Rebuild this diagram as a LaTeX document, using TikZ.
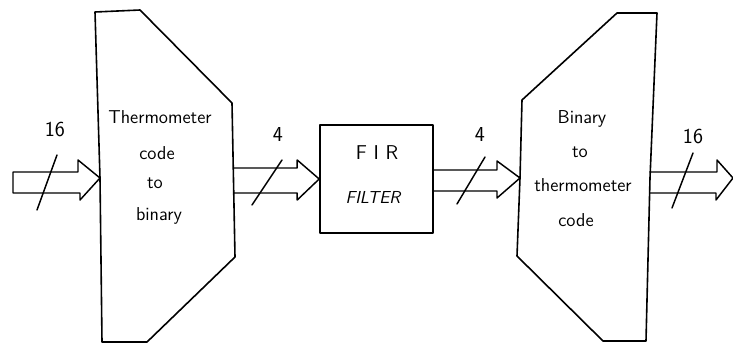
\documentclass[tikz,border=0pt]{standalone}
\usetikzlibrary{calc}
\begin{document}
\begin{tikzpicture}[x=0.75pt,y=-0.75pt,
  line/.style={draw=black,line width=1.2pt,line join=round,line cap=round},
  lbl/.style={font=\sffamily\fontsize{14}{15}\selectfont,inner sep=0pt,anchor=center},
  bus/.style={line,line width=1.1pt}]
\useasboundingbox (0,0) rectangle (733,343);
% left block: thermometer code to binary
\draw[line] (95,12) coordinate (t1a) -- (140,10) -- (232,103) -- (235,257) -- (147,342) -- (102,342) -- (100,178) coordinate (t1in) -- cycle;
\coordinate (t1out) at (234,180);
\node[lbl] (t1l1) at (160,117) {Thermometer};
\node[lbl] (t1l2) at (157,153) {code};
\node[lbl] (t1l3) at (155,183) {to};
\node[lbl] (t1l4) at (159,216) {binary};
% FIR filter
\node[line,minimum width=113*0.75pt,minimum height=108*0.75pt,inner sep=0pt] (fir) at (376.5,179) {};
\node[lbl,font=\sffamily\fontsize{15}{16}\selectfont] (firl1) at (377,153) {F\,\,I\,\,R};
\node[lbl,font=\sffamily\itshape\fontsize{13}{14}\selectfont] (firl2) at (373,197) {FILTER};
% right block: binary to thermometer code
\draw[line] (617,13) -- (657,13) -- (650,178) coordinate (t2out) -- (646,341) -- (603,341) -- (517,256) -- (520,178) coordinate (t2in) -- (522,100) -- cycle;
\node[lbl] (t2l1) at (582,119) {Binary};
\node[lbl] (t2l2) at (580,152) {to};
\node[lbl] (t2l3) at (583,185) {thermometer};
\node[lbl] (t2l4) at (576,220) {code};
% input bus
\coordinate (in) at (13,182);
\draw[bus] (in) ++(0,-10) -- ($(t1in)+(-22,-6)$) -- ($(t1in)+(-22,-18)$) -- (t1in) -- ($(t1in)+(-20,22)$) -- ($(t1in)+(-20,15)$) -- ($(in)+(0,11)$) -- cycle;
\draw[bus] (37,210) -- (57,155);
\node[lbl,font=\sffamily\fontsize{16}{17}\selectfont] (n16a) at (55,130) {16};
% bus t1 -> fir
\draw[bus] ($(t1out)+(0,-12)$) -- ($(fir.west)+(-22,-11)$) -- ($(fir.west)+(-22,-19)$) -- (fir.west) -- ($(fir.west)+(-22,21)$) -- ($(fir.west)+(-22,14)$) -- ($(t1out)+(0,13)$);
\draw[bus] (252,205) -- (282,160);
\node[lbl,font=\sffamily\fontsize{16}{17}\selectfont] (n4a) at (278,135) {4};
% bus fir -> t2
\draw[bus] ($(fir.east)+(0,-9)$) -- ($(t2in)+(-23,-8)$) -- ($(t2in)+(-23,-17)$) -- (t2in) -- ($(t2in)+(-23,20)$) -- ($(t2in)+(-23,13)$) -- ($(fir.east)+(0,12)$);
\draw[bus] (457,204) -- (485,157);
\node[lbl,font=\sffamily\fontsize{16}{17}\selectfont] (n4b) at (480,135) {4};
% output bus
\coordinate (out) at (733,178);
\draw[bus] ($(t2out)+(0,-6)$) -- ($(out)+(-16,-6)$) -- ($(out)+(-16,-18)$) -- (out) -- ($(out)+(-17,22)$) -- ($(out)+(-17,15)$) -- ($(t2out)+(0,15)$);
\draw[bus] (672,208) -- (693,153);
\node[lbl,font=\sffamily\fontsize{16}{17}\selectfont] (n16b) at (693,137) {16};
\end{tikzpicture}
\end{document}
